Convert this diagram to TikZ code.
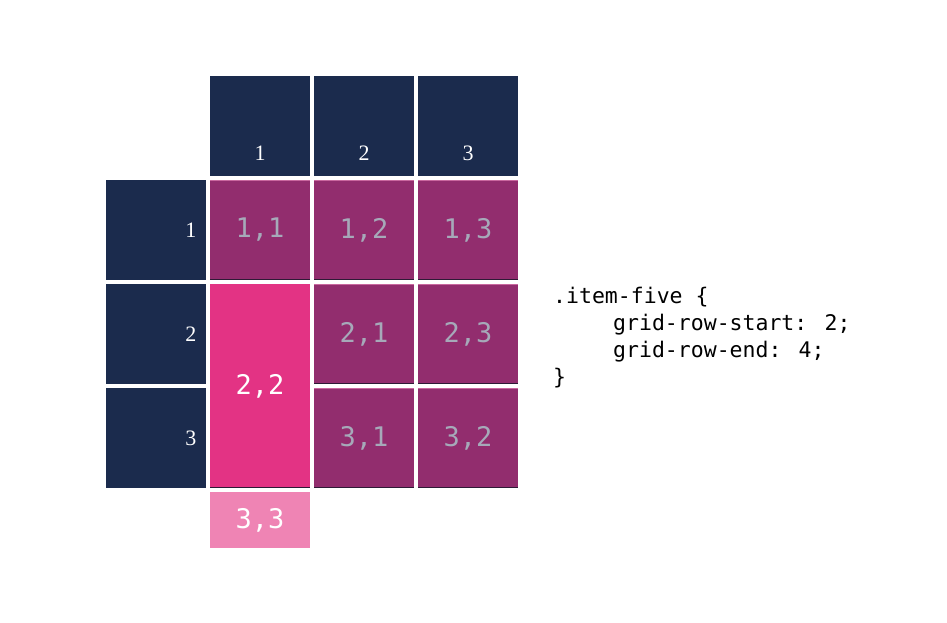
\documentclass[tikz,border=0pt]{standalone}
\usepackage{fontspec}
\setmainfont{Liberation Serif}
\newfontfamily\codefont{DejaVu Sans Mono}
\usetikzlibrary{positioning}

\definecolor{navy}{HTML}{1B2B4D}
\definecolor{plum}{HTML}{922D6E}
\definecolor{hotpink}{HTML}{E33384}
\definecolor{softpink}{HTML}{EF84B4}
\definecolor{cellgray}{HTML}{A6A9B9}
\definecolor{edgetop}{HTML}{C9679F}
\definecolor{edgebot}{HTML}{2E1A36}

\tikzset{
  box/.style={outer sep=0, inner sep=0, minimum width=100pt, minimum height=100pt},
  hdr/.style={box, fill=navy},
  hnum/.style={text=white, font=\fontsize{22}{22}\selectfont},
  cell/.style={box, fill=plum, text=cellgray, font=\fontsize{27}{27}\codefont,
    path picture={
      \draw[edgetop, line width=1pt] ([yshift=-0.5pt]path picture bounding box.north west) -- ([yshift=-0.5pt]path picture bounding box.north east);
      \draw[edgebot, line width=1pt] ([yshift=0.5pt]path picture bounding box.south west) -- ([yshift=0.5pt]path picture bounding box.south east);
    }},
  item/.style={box, text=white, font=\fontsize{27}{27}\codefont},
  code/.style={anchor=base west, inner sep=0, font=\fontsize{21.5}{21.5}\codefont},
  node distance=4pt
}

\begin{document}
\begin{tikzpicture}[x=1pt, y=-1pt]
  \useasboundingbox[fill=white] (0,0) rectangle (947,622);

  % column headers
  \node[hdr, label={[hnum, anchor=base, label distance=-16pt]south:1}] (h1) at (260,126) {};
  \node[hdr, right=of h1, label={[hnum, anchor=base, label distance=-16pt]south:2}] (h2) {};
  \node[hdr, right=of h2, label={[hnum, anchor=base, label distance=-16pt]south:3}] (h3) {};

  % first row of cells
  \node[cell, below=of h1] (c11) {1,1};
  \node[cell, below=of h2] (c12) {1,2};
  \node[cell, below=of h3] (c13) {1,3};

  % row headers
  \node[hdr, left=of c11, label={[hnum, anchor=east, label distance=-6pt]east:1}] (r1) {};
  \node[hdr, below=of r1, label={[hnum, anchor=east, label distance=-6pt]east:2}] (r2) {};
  \node[hdr, below=of r2, label={[hnum, anchor=east, label distance=-6pt]east:3}] (r3) {};

  % item five spans two rows
  \node[item, fill=hotpink, minimum height=204pt, anchor=north, below=of c11,
    path picture={\draw[edgebot, line width=1pt] ([yshift=0.5pt]path picture bounding box.south west) -- ([yshift=0.5pt]path picture bounding box.south east);}] (i5) {2,2};
  \node[cell, below=of c12] (c21) {2,1};
  \node[cell, below=of c13] (c23) {2,3};
  \node[cell, below=of c21] (c31) {3,1};
  \node[cell, below=of c23] (c32) {3,2};
  \node[item, fill=softpink, minimum height=56pt, below=of i5] (c33) {3,3};

  % css rule
  \node[code] (sel) at (553,303) {.item-five \{};
  \node[code] (start) at (613,330) {grid-row-start: 2;};
  \node[code] (end) at (613,357) {grid-row-end: 4;};
  \node[code] (close) at (553,384) {\}};
\end{tikzpicture}
\end{document}
